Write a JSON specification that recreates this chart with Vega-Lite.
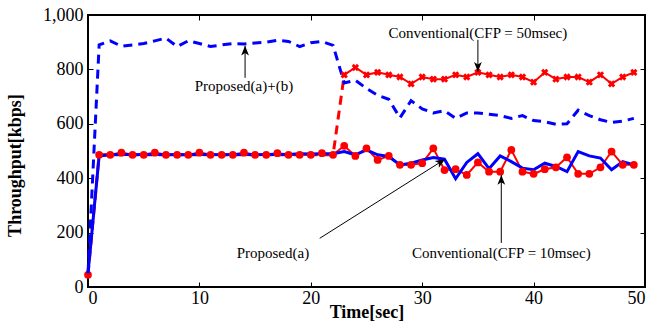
{
  "$schema": "https://vega.github.io/schema/vega-lite/v6.json",
  "width": 557,
  "height": 272,
  "autosize": "none",
  "padding": {"left": 88, "top": 15, "right": 12, "bottom": 38},
  "background": "white",
  "config": {
    "font": "Liberation Serif",
    "view": {"stroke": "black", "strokeWidth": 2},
    "axis": {"labelFont": "Liberation Serif", "titleFont": "Liberation Serif", "labelColor": "black", "titleColor": "black", "tickColor": "black", "grid": false, "domain": false},
    "text": {"font": "Liberation Serif"}
  },
  "datasets": {
    "propab": [
      {"t":0,"v":50},{"t":1,"v":890},{"t":2,"v":905},{"t":3,"v":885},{"t":4,"v":890},{"t":5,"v":895},{"t":6,"v":905},{"t":7,"v":915},{"t":8,"v":884},{"t":9,"v":905},
      {"t":10,"v":895},{"t":11,"v":884},{"t":12,"v":890},{"t":13,"v":895},{"t":14,"v":893},{"t":15,"v":897},{"t":16,"v":900},{"t":17,"v":907},{"t":18,"v":903},{"t":19,"v":884},
      {"t":20,"v":898},{"t":21,"v":903},{"t":22,"v":888},{"t":23,"v":750},{"t":24,"v":760},{"t":25,"v":730},{"t":26,"v":705},{"t":27,"v":690},{"t":28,"v":622},{"t":29,"v":685},
      {"t":30,"v":655},{"t":31,"v":640},{"t":32,"v":648},{"t":33,"v":620},{"t":34,"v":640},{"t":35,"v":640},{"t":36,"v":635},{"t":37,"v":630},{"t":38,"v":620},{"t":39,"v":630},
      {"t":40,"v":612},{"t":41,"v":608},{"t":42,"v":598},{"t":43,"v":600},{"t":44,"v":650},{"t":45,"v":630},{"t":46,"v":615},{"t":47,"v":605},{"t":48,"v":610},{"t":49,"v":620}
    ],
    "propa": [
      {"t":0,"v":50},{"t":1,"v":482},{"t":2,"v":486},{"t":3,"v":488},{"t":4,"v":486},{"t":5,"v":487},{"t":6,"v":488},{"t":7,"v":486},{"t":8,"v":487},{"t":9,"v":486},
      {"t":10,"v":488},{"t":11,"v":487},{"t":12,"v":486},{"t":13,"v":487},{"t":14,"v":488},{"t":15,"v":486},{"t":16,"v":487},{"t":17,"v":488},{"t":18,"v":487},{"t":19,"v":490},
      {"t":20,"v":489},{"t":21,"v":490},{"t":22,"v":490},{"t":23,"v":498},{"t":24,"v":486},{"t":25,"v":504},{"t":26,"v":486},{"t":27,"v":480},{"t":28,"v":449},{"t":29,"v":455},
      {"t":30,"v":467},{"t":31,"v":476},{"t":32,"v":470},{"t":33,"v":398},{"t":34,"v":458},{"t":35,"v":490},{"t":36,"v":435},{"t":37,"v":482},{"t":38,"v":461},{"t":39,"v":437},
      {"t":40,"v":431},{"t":41,"v":455},{"t":42,"v":443},{"t":43,"v":424},{"t":44,"v":498},{"t":45,"v":482},{"t":46,"v":474},{"t":47,"v":431},{"t":48,"v":461},{"t":49,"v":449}
    ],
    "conv10": [
      {"t":0,"v":45},{"t":1,"v":486},{"t":2,"v":486},{"t":3,"v":494},{"t":4,"v":486},{"t":5,"v":486},{"t":6,"v":494},{"t":7,"v":486},{"t":8,"v":486},{"t":9,"v":486},
      {"t":10,"v":494},{"t":11,"v":486},{"t":12,"v":486},{"t":13,"v":486},{"t":14,"v":494},{"t":15,"v":486},{"t":16,"v":486},{"t":17,"v":492},{"t":18,"v":486},{"t":19,"v":486},
      {"t":20,"v":486},{"t":21,"v":492},{"t":22,"v":486},{"t":23,"v":519},{"t":24,"v":482},{"t":25,"v":510},{"t":26,"v":467},{"t":27,"v":482},{"t":28,"v":449},{"t":29,"v":449},
      {"t":30,"v":455},{"t":31,"v":510},{"t":32,"v":430},{"t":33,"v":433},{"t":34,"v":412},{"t":35,"v":458},{"t":36,"v":424},{"t":37,"v":424},{"t":38,"v":504},{"t":39,"v":424},
      {"t":40,"v":416},{"t":41,"v":433},{"t":42,"v":440},{"t":43,"v":477},{"t":44,"v":416},{"t":45,"v":416},{"t":46,"v":440},{"t":47,"v":498},{"t":48,"v":449},{"t":49,"v":449}
    ],
    "conv50": [
      {"t":0,"v":45},{"t":1,"v":486},{"t":2,"v":486},{"t":3,"v":486},{"t":4,"v":486},{"t":5,"v":486},{"t":6,"v":486},{"t":7,"v":486},{"t":8,"v":486},{"t":9,"v":486},
      {"t":10,"v":486},{"t":11,"v":486},{"t":12,"v":486},{"t":13,"v":486},{"t":14,"v":486},{"t":15,"v":486},{"t":16,"v":486},{"t":17,"v":486},{"t":18,"v":486},{"t":19,"v":486},
      {"t":20,"v":486},{"t":21,"v":486},{"t":22,"v":486},{"t":23,"v":780},{"t":24,"v":807},{"t":25,"v":780},{"t":26,"v":789},{"t":27,"v":780},{"t":28,"v":772},{"t":29,"v":747},
      {"t":30,"v":772},{"t":31,"v":764},{"t":32,"v":764},{"t":33,"v":780},{"t":34,"v":772},{"t":35,"v":789},{"t":36,"v":780},{"t":37,"v":772},{"t":38,"v":780},{"t":39,"v":772},
      {"t":40,"v":753},{"t":41,"v":789},{"t":42,"v":764},{"t":43,"v":772},{"t":44,"v":772},{"t":45,"v":753},{"t":46,"v":780},{"t":47,"v":747},{"t":48,"v":772},{"t":49,"v":789}
    ],
    "notes": [
      {"label":"Proposed(a)+(b)","tx":14,"ty":740,"ax":14.1,"ay":769,"hx":14.1,"hy":887,"dir":"up"},
      {"label":"Conventional(CFP = 50msec)","tx":35,"ty":935,"ax":35,"ay":909,"hx":35,"hy":791,"dir":"down"},
      {"label":"Proposed(a)","tx":16.6,"ty":126,"ax":20.8,"ay":179,"hx":32.05,"hy":470,"dir":"diag"},
      {"label":"Conventional(CFP = 10msec)","tx":37.1,"ty":126,"ax":37.1,"ay":162,"hx":37.1,"hy":412,"dir":"up"}
    ]
  },
  "resolve": {"axis": {"x": "independent", "y": "independent"}},
  "layer": [
    {
      "data": {"name": "conv50"},
      "transform": [{"filter": "datum.t <= 23"}],
      "mark": {"type": "line", "color": "#ff0000", "strokeWidth": 3, "strokeDash": [9, 6]},
      "encoding": {
        "x": {"field": "t", "type": "quantitative", "scale": {"domain": [0, 50], "nice": false},
          "axis": {"title": "Time[sec]", "values": [0,10,20,30,40,50], "tickSize": -5, "labelPadding": 7, "labelFont": "Liberation Serif", "titleFont": "Liberation Serif", "labelFontSize": 18, "titleFontSize": 18, "titleFontWeight": "bold", "titleY": 34, "titleBaseline": "bottom", "titleAnchor": "middle"}},
        "y": {"field": "v", "type": "quantitative", "scale": {"domain": [0, 1000], "nice": false},
          "axis": {"title": "Throughput[kbps]", "values": [0,200,400,600,800,1000], "tickSize": -5, "labelPadding": 10, "labelFont": "Liberation Serif", "titleFont": "Liberation Serif", "labelFontSize": 18, "titleFontSize": 18, "titleFontWeight": "bold", "titleX": -82, "titleY": 150, "titleBaseline": "top", "titleAlign": "center", "titleAngle": -90}}
      }
    },
    {
      "data": {"name": "conv10"},
      "mark": {"type": "line", "color": "#ff0000", "strokeWidth": 2},
      "encoding": {
        "x": {"field": "t", "type": "quantitative", "axis": null},
        "y": {"field": "v", "type": "quantitative", "axis": null}
      }
    },
    {
      "data": {"name": "propa"},
      "mark": {"type": "line", "color": "#0000ff", "strokeWidth": 3},
      "encoding": {
        "x": {"field": "t", "type": "quantitative", "axis": null},
        "y": {"field": "v", "type": "quantitative", "axis": null}
      }
    },
    {
      "data": {"name": "conv10"},
      "mark": {"type": "point", "shape": "circle", "filled": true, "color": "#ff0000", "size": 60, "opacity": 1},
      "encoding": {
        "x": {"field": "t", "type": "quantitative", "axis": null},
        "y": {"field": "v", "type": "quantitative", "axis": null}
      }
    },
    {
      "data": {"name": "propab"},
      "mark": {"type": "line", "color": "#0000ff", "strokeWidth": 3, "strokeDash": [9, 6]},
      "encoding": {
        "x": {"field": "t", "type": "quantitative", "axis": null},
        "y": {"field": "v", "type": "quantitative", "axis": null}
      }
    },
    {
      "data": {"name": "conv50"},
      "transform": [{"filter": "datum.t >= 23"}],
      "mark": {"type": "line", "color": "#ff0000", "strokeWidth": 2},
      "encoding": {
        "x": {"field": "t", "type": "quantitative", "axis": null},
        "y": {"field": "v", "type": "quantitative", "axis": null}
      }
    },
    {
      "data": {"name": "conv50"},
      "transform": [{"filter": "datum.t >= 23"}],
      "mark": {"type": "point", "shape": "cross", "angle": 45, "filled": true, "color": "#ff0000", "size": 55, "opacity": 1},
      "encoding": {
        "x": {"field": "t", "type": "quantitative", "axis": null},
        "y": {"field": "v", "type": "quantitative", "axis": null}
      }
    },
    {
      "data": {"name": "notes"},
      "mark": {"type": "rule", "color": "black", "strokeWidth": 1},
      "encoding": {
        "x": {"field": "ax", "type": "quantitative", "axis": null},
        "y": {"field": "ay", "type": "quantitative", "axis": null},
        "x2": {"field": "hx"},
        "y2": {"field": "hy"}
      }
    },
    {
      "data": {"name": "notes"},
      "transform": [{"filter": "datum.dir == 'up'"}],
      "mark": {"type": "point", "shape": "M0,0L-0.4,1L0,0.75L0.4,1Z", "filled": true, "color": "black", "size": 380, "opacity": 1, "angle": 0},
      "encoding": {
        "x": {"field": "hx", "type": "quantitative", "axis": null},
        "y": {"field": "hy", "type": "quantitative", "axis": null}
      }
    },
    {
      "data": {"name": "notes"},
      "transform": [{"filter": "datum.dir == 'down'"}],
      "mark": {"type": "point", "shape": "M0,0L-0.4,1L0,0.75L0.4,1Z", "filled": true, "color": "black", "size": 380, "opacity": 1, "angle": 180},
      "encoding": {
        "x": {"field": "hx", "type": "quantitative", "axis": null},
        "y": {"field": "hy", "type": "quantitative", "axis": null}
      }
    },
    {
      "data": {"name": "notes"},
      "transform": [{"filter": "datum.dir == 'diag'"}],
      "mark": {"type": "point", "shape": "M0,0L-0.4,1L0,0.75L0.4,1Z", "filled": true, "color": "black", "size": 380, "opacity": 1, "angle": 58},
      "encoding": {
        "x": {"field": "hx", "type": "quantitative", "axis": null},
        "y": {"field": "hy", "type": "quantitative", "axis": null}
      }
    },
    {
      "data": {"name": "notes"},
      "mark": {"type": "text", "font": "Liberation Serif", "fontSize": 15, "color": "black", "baseline": "middle", "align": "center"},
      "encoding": {
        "x": {"field": "tx", "type": "quantitative", "axis": null},
        "y": {"field": "ty", "type": "quantitative", "axis": null},
        "text": {"field": "label"}
      }
    },
    {
      "data": {"name": "conv50"},
      "mark": {"type": "point", "opacity": 0},
      "encoding": {
        "x": {"field": "t", "type": "quantitative",
          "axis": {"orient": "top", "labels": false, "title": null, "values": [10,20,30,40], "tickSize": -5}},
        "y": {"field": "v", "type": "quantitative",
          "axis": {"orient": "right", "labels": false, "title": null, "values": [200,400,600,800], "tickSize": -5}}
      }
    }
  ]
}
